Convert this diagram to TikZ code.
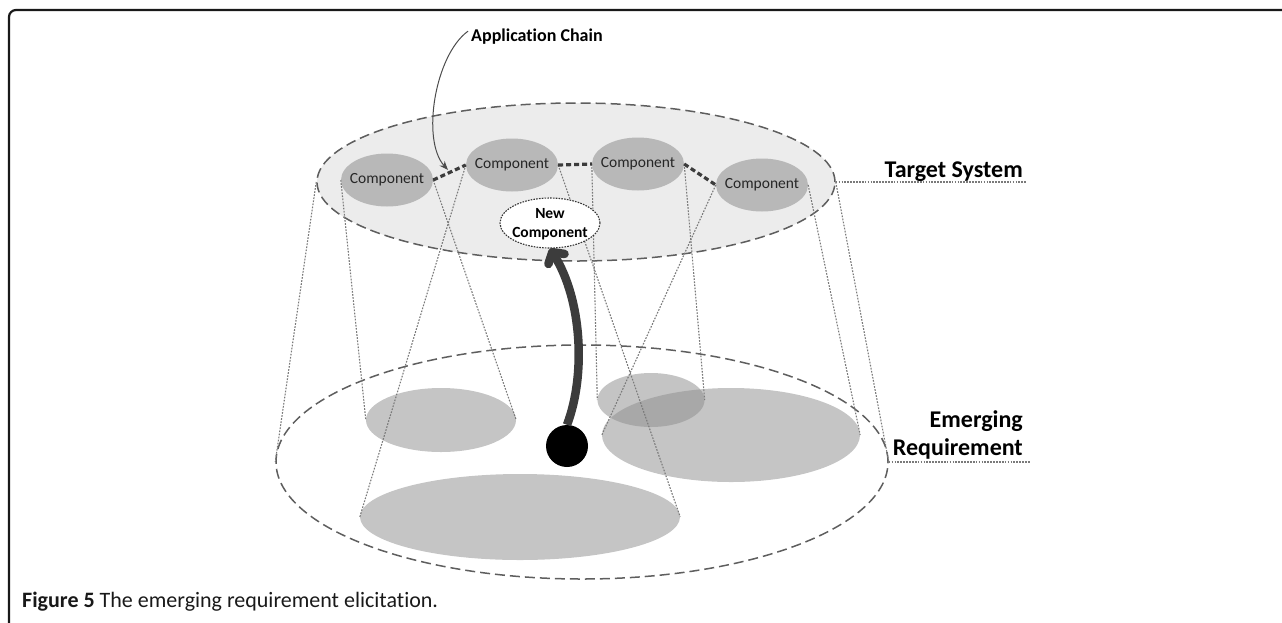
\documentclass[tikz,border=0pt]{standalone}
\usepackage{fontspec}
\setmainfont{Carlito}[Ligatures=NoCommon]
\usetikzlibrary{shapes.geometric,arrows.meta}

\definecolor{rimgray}{HTML}{5E5E5E}
\definecolor{projgray}{HTML}{7A7A7A}
\definecolor{planefill}{HTML}{ECECEC}
\definecolor{compfill}{HTML}{B8B8B8}
\definecolor{areafill}{HTML}{C5C5C5}
\definecolor{overlapfill}{HTML}{8F8F8F}
\definecolor{inkgray}{HTML}{3C3C3C}
\definecolor{textgray}{HTML}{262626}

\tikzset{
  plane/.style={ellipse, draw=rimgray, line width=1.5pt, dash pattern=on 10pt off 5pt, inner sep=0pt},
  comp/.style={ellipse, fill=compfill, inner sep=0pt, minimum width=92pt, minimum height=53pt},
  comptext/.style={font=\fontsize{15.5}{18}\selectfont, text=textgray, inner sep=0pt},
  area/.style={ellipse, fill=areafill, inner sep=0pt},
  projline/.style={draw=projgray, line width=1.1pt, dash pattern=on 1.7pt off 1.4pt},
  chainlink/.style={draw=inkgray, line width=3.2pt, dash pattern=on 5pt off 3pt},
  leader/.style={draw=projgray, line width=1.3pt, dash pattern=on 1.7pt off 1.2pt},
  biglabel/.style={font=\bfseries\fontsize{24}{28}\selectfont, text=black, inner sep=0pt},
}

\begin{document}
\begin{tikzpicture}[x=1pt, y=-1pt]
\useasboundingbox (0,0) rectangle (1282,622);

% figure frame
\draw[line width=2.2pt, draw=black!90, rounded corners=7pt] (1290,10) -- (9,10) -- (9,630);

% the two planes
\node[plane, fill=planefill, minimum width=518pt, minimum height=158pt] (target) at (576,182) {};
\node[plane, minimum width=612pt, minimum height=234pt] (emerge) at (582,462) {};

% areas of the emerging requirement
\node[area, minimum width=150pt, minimum height=64pt] (ra) at (441,420) {};
\node[area, minimum width=320pt, minimum height=86pt] (rb) at (520,517) {};
\node[area, minimum width=258pt, minimum height=94pt] (rd) at (731,435) {};
\node[ellipse, inner sep=0pt, fill=overlapfill, fill opacity=0.525, minimum width=107pt, minimum height=54pt] (rc) at (651,400) {};

% components of the target system
\node[comp, label={[comptext]center:Component}] (c1) at (387,180) {};
\node[comp, label={[comptext]center:Component}] (c2) at (512,165) {};
\node[comp, label={[comptext]center:Component}] (c3) at (638,164) {};
\node[comp, label={[comptext]center:Component}] (c4) at (762,185) {};

% projections onto the requirement areas
\draw[projline] (target.west) -- (emerge.west);
\draw[projline] (target.east) -- (emerge.east);
\draw[projline] (c1.west) -- (ra.west);
\draw[projline] (c1.east) -- (ra.east);
\draw[projline] (c2.west) -- (rb.west);
\draw[projline] (c2.east) -- (rb.east);
\draw[projline] (c3.west) -- (rc.west);
\draw[projline] (c3.east) -- (rc.east);
\draw[projline] (c4.west) -- (rd.west);
\draw[projline] (c4.east) -- (rd.east);

% application chain
\draw[chainlink] (c1.east) -- (c2.west);
\draw[chainlink] (c2.east) -- (c3.west);
\draw[chainlink] (c3.east) -- (c4.west);

% new component
\node[ellipse, fill=white, draw=black!80, line width=1.1pt, dash pattern=on 1.6pt off 1.2pt,
      inner sep=0pt, minimum width=100pt, minimum height=50pt] (nc) at (550,223) {};
\node[font=\bfseries\fontsize{15.5}{19}\selectfont, align=center, inner sep=0pt] (nctext) at (550,224) {New\\Component};

% emerging requirement rising into the new component
\node[circle, fill=black, inner sep=0pt, minimum size=42pt] (dot) at (567,446) {};
\draw[draw=inkgray, line width=8.5pt, -{Straight Barb[length=8pt, width=19pt, round]}]
  (dot.north) .. controls (586,375) and (582,300) .. (nc.south);

% labels
\node[font=\bfseries\fontsize{18}{22}\selectfont, anchor=base west, inner sep=0pt] (appl) at (471,41) {Application Chain};
\coordinate (chaintip) at (448,170);
\draw[draw=black!70, line width=1pt, -{Stealth[length=9pt, width=7pt]}]
  ([shift={(-3,3)}]appl.north west) .. controls (435,55) and (421,140) .. (chaintip);

\node[biglabel, anchor=base east] (tslabel) at (1023,177) {Target System};
\coordinate (tsend) at (1027,182);
\draw[leader] (target.east) -- (tsend);

\node[biglabel, anchor=base east] (erlabel1) at (1023,427) {Emerging};
\node[biglabel, anchor=base east] (erlabel2) at (1023,455) {Requirement};
\coordinate (erend) at (1030,462);
\draw[leader] (emerge.east) -- (erend);

% caption
\node[font=\fontsize{22}{26}\selectfont, text=black!90, anchor=base west, inner sep=0pt] (caption) at (22,607)
  {\textbf{Figure 5} The emerging requirement elicitation.};
\end{tikzpicture}
\end{document}
